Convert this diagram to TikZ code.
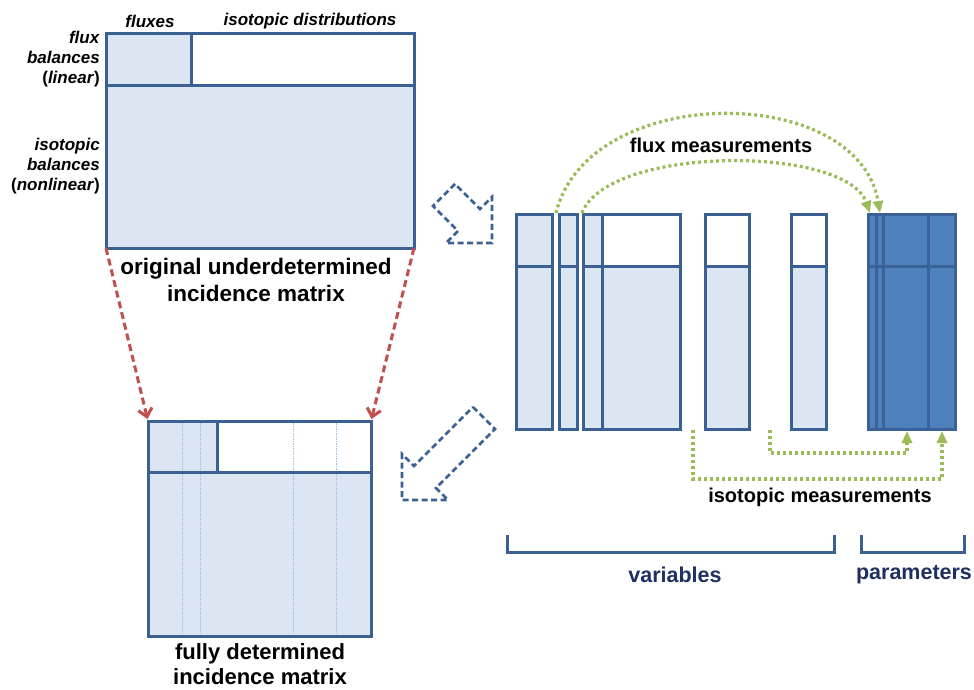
\documentclass[tikz,border=0pt]{standalone}
\usepackage{fontspec}
\setmainfont{Liberation Sans}
\usetikzlibrary{arrows.meta}
\definecolor{bordc}{HTML}{3B6094}
\definecolor{lightc}{HTML}{DCE6F2}
\definecolor{darkc}{HTML}{4F81BD}
\definecolor{darkb}{HTML}{3A6296}
\definecolor{greenc}{HTML}{9BBB59}
\definecolor{redc}{HTML}{C0504D}
\definecolor{thinc}{HTML}{9DC3E6}
\definecolor{navyc}{HTML}{1F2F5F}
\begin{document}
\begin{tikzpicture}[x=1pt,y=-1pt,
  lightbox/.style={draw=bordc, fill=lightc, line width=3pt, inner sep=0pt, outer sep=0pt, anchor=north west},
  whitebox/.style={draw=bordc, fill=white, line width=3pt, inner sep=0pt, outer sep=0pt, anchor=north west},
  darkbox/.style={draw=darkb, fill=darkc, line width=3pt, inner sep=0pt, outer sep=0pt, anchor=north west},
  divline/.style={draw=bordc, line width=3pt},
  darkline/.style={draw=darkb, line width=3pt},
  thinline/.style={draw=thinc, line width=1pt, dash pattern=on 1.5pt off 1pt},
  greendot/.style={draw=greenc, line width=3.2pt, dash pattern=on 3pt off 3pt, -{Triangle[length=12pt,width=10pt]}},
  reddash/.style={draw=redc, line width=3pt, dash pattern=on 7pt off 4pt, -{Straight Barb[length=8pt,width=14pt]}},
  blockarrow/.style={draw=bordc, line width=2.6pt, dash pattern=on 6pt off 3.5pt, line join=miter},
  bracketline/.style={draw=bordc, line width=3pt},
  lbl/.style={inner sep=0pt, text=black},
  bigtxt/.style={lbl, font=\bfseries\fontsize{22.5}{27}\selectfont, align=center},
  midtxt/.style={lbl, font=\bfseries\fontsize{20}{24}\selectfont},
  navytxt/.style={lbl, text=navyc, font=\bfseries\fontsize{21.5}{26}\selectfont},
  smalltxt/.style={lbl, font=\bfseries\itshape\fontsize{17}{20}\selectfont},
  sidetxt/.style={lbl, font=\bfseries\fontsize{17}{20}\selectfont, align=right, anchor=east}
]
\useasboundingbox (0,0) rectangle (974,690);

% ---------- original matrix ----------
\node[lightbox, minimum width=308pt, minimum height=214pt] (A) at (106,34) {};
\node[whitebox, minimum width=223pt, minimum height=52pt] (Aw) at (191,34) {};
\draw[divline] (A.north west |- Aw.south) -- (Aw.south east);

\node[smalltxt] (tfl) at (150,21) {fluxes};
\node[smalltxt] (tid) at (310,21) {isotopic distributions};
\node[sidetxt] (tfb) at (100,59) {\textit{flux}\\\textit{balances}\\(\textit{linear})};
\node[sidetxt] (tib) at (100,166) {\textit{isotopic}\\\textit{balances}\\(\textit{nonlinear})};
\node[bigtxt] (tA) at (256,280) {original underdetermined\\incidence matrix};

% ---------- fully determined matrix ----------
\node[lightbox, minimum width=223pt, minimum height=215pt] (B) at (148,421) {};
\node[whitebox, minimum width=154pt, minimum height=51pt] (Bw) at (217,421) {};
\foreach \xx in {182,200,293,336} \draw[thinline] (\xx,423) -- (\xx,634);
\draw[divline] (B.north west |- Bw.south) -- (Bw.south east);
\draw[divline] (B.north west) rectangle (B.south east);
\node[bigtxt, font=\bfseries\fontsize{22}{25}\selectfont] (tB) at (260,664) {fully determined\\incidence matrix};

% red arrows
\draw[reddash, shorten >=2pt] (A.south west) -- (B.north west);
\draw[reddash, shorten >=2pt] (A.south east) -- (B.north east);

% ---------- columns ----------
\node[lightbox, minimum width=36pt, minimum height=215pt] (c1) at (516,214) {};
\node[lightbox, minimum width=18pt, minimum height=215pt] (c2) at (559,214) {};
\node[lightbox, minimum width=97pt, minimum height=215pt] (c3) at (583,214) {};
\node[whitebox, minimum width=78pt, minimum height=52pt] (c3w) at (602,214) {};
\node[lightbox, minimum width=44pt, minimum height=215pt] (c4) at (705,214) {};
\node[whitebox, minimum width=44pt, minimum height=52pt] (c4w) at (705,214) {};
\node[lightbox, minimum width=35pt, minimum height=215pt] (c5) at (791,214) {};
\node[whitebox, minimum width=35pt, minimum height=52pt] (c5w) at (791,214) {};
\draw[divline] (c1.west |- 0,266) -- (c1.east |- 0,266);
\draw[divline] (c2.west |- 0,266) -- (c2.east |- 0,266);
\draw[divline] (c3.west |- 0,266) -- (c3.east |- 0,266);
\draw[divline] (c3w.south west) -- (c3w.south west |- c3.south);

\node[darkbox, minimum width=87pt, minimum height=215pt] (dk) at (868,214) {};
\foreach \xx in {876,883,928} \draw[darkline] (\xx,214) -- (\xx,429);
\draw[darkline] (dk.west |- 0,266) -- (dk.east |- 0,266);

% block arrows
\draw[blockarrow] (455,184) -- (433,206) -- (458,231) -- (446,243) -- (492,243) -- (492,197) -- (480,209) -- cycle;
\draw[blockarrow] (473,407) -- (495,429) -- (436,488) -- (448,500) -- (402,500) -- (402,454) -- (414,466) -- cycle;

% flux measurements
\coordinate (f1s) at (556,213);
\coordinate (f1e) at (880,213);
\coordinate (f2s) at (582,213);
\coordinate (f2e) at (870,213);
\draw[greendot] (f1s) .. controls (588,82) and (858,82) .. (f1e);
\draw[greendot] (f2s) .. controls (608,145) and (846,145) .. (f2e);
\node[midtxt] (tfm) at (721,145) {flux measurements};

% isotopic measurements
\coordinate (i1s) at (693,430);
\coordinate (i1e) at (942,431);
\coordinate (i2s) at (770,430);
\coordinate (i2e) at (907,431);
\draw[greendot] (i1s) -- (i1s |- 0,479) -- (i1e |- 0,479) -- (i1e);
\draw[greendot] (i2s) -- (i2s |- 0,453) -- (i2e |- 0,453) -- (i2e);
\node[midtxt] (tim) at (820,497) {isotopic measurements};

% brackets
\draw[bracketline] (507,535) -- (507,552) -- (834,552) -- (834,535);
\draw[bracketline] (861,535) -- (861,552) -- (964,552) -- (964,535);
\node[navytxt] (tv) at (675,575) {variables};
\node[navytxt] (tp) at (914,575) {parameters};
\end{tikzpicture}
\end{document}
